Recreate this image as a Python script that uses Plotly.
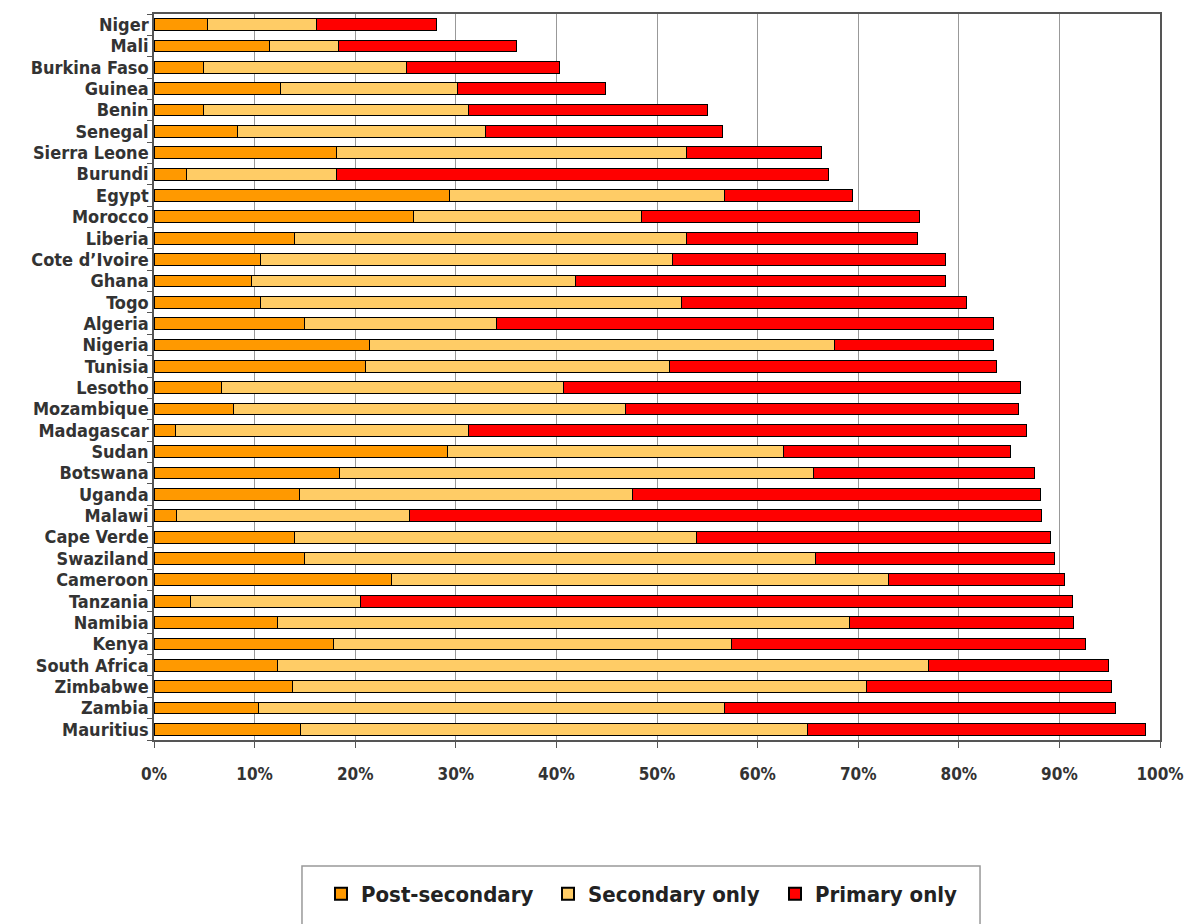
import plotly.graph_objects as go

# Share of population by highest education level attained, by country
countries = [
    "Niger", "Mali", "Burkina Faso", "Guinea", "Benin", "Senegal", "Sierra Leone",
    "Burundi", "Egypt", "Morocco", "Liberia", "Cote d\u2019Ivoire", "Ghana", "Togo",
    "Algeria", "Nigeria", "Tunisia", "Lesotho", "Mozambique", "Madagascar", "Sudan",
    "Botswana", "Uganda", "Malawi", "Cape Verde", "Swaziland", "Cameroon", "Tanzania",
    "Namibia", "Kenya", "South Africa", "Zimbabwe", "Zambia", "Mauritius",
]
post_secondary = [
    5.3, 11.5, 4.9, 12.6, 4.9, 8.3, 18.1, 3.2, 29.4, 25.8, 14.0, 10.6, 9.7, 10.6,
    15.0, 21.4, 21.0, 6.7, 7.9, 2.1, 29.2, 18.4, 14.5, 2.2, 14.0, 15.0, 23.6, 3.6,
    12.3, 17.8, 12.3, 13.8, 10.4, 14.6,
]
secondary_only = [
    10.9, 6.8, 20.2, 17.6, 26.4, 24.7, 34.8, 14.9, 27.3, 22.7, 38.9, 40.9, 32.2, 41.8,
    19.0, 46.2, 30.2, 34.0, 39.0, 29.2, 33.4, 47.2, 33.1, 23.2, 39.9, 50.8, 49.4, 16.9,
    56.8, 39.6, 64.7, 57.0, 46.3, 50.4,
]
primary_only = [
    11.9, 17.7, 15.2, 14.7, 23.7, 23.5, 13.5, 48.9, 12.7, 27.6, 23.0, 27.2, 36.8, 28.4,
    49.4, 15.8, 32.5, 45.4, 39.0, 55.4, 22.5, 21.9, 40.5, 62.8, 35.2, 23.7, 17.5, 70.8,
    22.3, 35.2, 17.9, 24.4, 38.9, 33.6,
]
x_ticks = list(range(0, 101, 10))

series = [
    ("Post-secondary", post_secondary, "#FF9900"),
    ("Secondary only", secondary_only, "#FFCC66"),
    ("Primary only", primary_only, "#FF0000"),
]

fig = go.Figure()
for name, vals, color in series:
    fig.add_trace(go.Bar(
        name=name,
        y=countries,
        x=vals,
        orientation="h",
        marker=dict(color=color, line=dict(color="#000000", width=1)),
    ))

label_font = "DejaVu Sans Condensed, DejaVu Sans, sans-serif"

fig.update_layout(
    barmode="stack",
    bargap=0.45,
    width=1188,
    height=924,
    paper_bgcolor="white",
    plot_bgcolor="white",
    margin=dict(l=154, r=28, t=14, b=184, autoexpand=False),
    font=dict(family=label_font, color="#333333"),
    legend=dict(
        orientation="h",
        x=0.166, xanchor="left",
        y=-0.183, yanchor="top",
        borderwidth=0,
        bgcolor="rgba(0,0,0,0)",
        font=dict(size=22, family=label_font, color="#222222", weight="bold"),
        entrywidth=182,
        itemsizing="constant",
        traceorder="normal",
        itemwidth=30,
    ),
    # frame around the legend, running off the bottom edge
    shapes=[dict(
        type="rect", xref="paper", yref="paper",
        x0=0.1471, x1=0.8211, y0=-0.2686, y1=-0.1736,
        line=dict(color="#999999", width=1.5),
        fillcolor="rgba(0,0,0,0)", layer="below",
    )],
)

fig.update_xaxes(
    range=[0, 100],
    tickvals=x_ticks,
    ticktext=[f"{v}%" for v in x_ticks],
    tickfont=dict(size=17, family=label_font, color="#333333", weight="bold"),
    showgrid=True, gridcolor="#999999", gridwidth=1,
    showline=True, linecolor="#555555", linewidth=1.5, mirror=True,
    ticks="outside", ticklen=6, tickcolor="#555555",
    ticklabelstandoff=12,
    zeroline=False,
    automargin=False,
)
fig.update_yaxes(
    categoryorder="array",
    categoryarray=countries,
    tickmode="array",
    tickvals=countries,
    autorange="reversed",
    tickfont=dict(size=18, family=label_font, color="#333333", weight="bold"),
    showline=True, linecolor="#555555", linewidth=1.5, mirror=True,
    ticks="outside", ticklen=5, tickcolor="#555555", tickson="boundaries",
    showgrid=False,
    automargin=False,
)

fig.write_html("out.html")
